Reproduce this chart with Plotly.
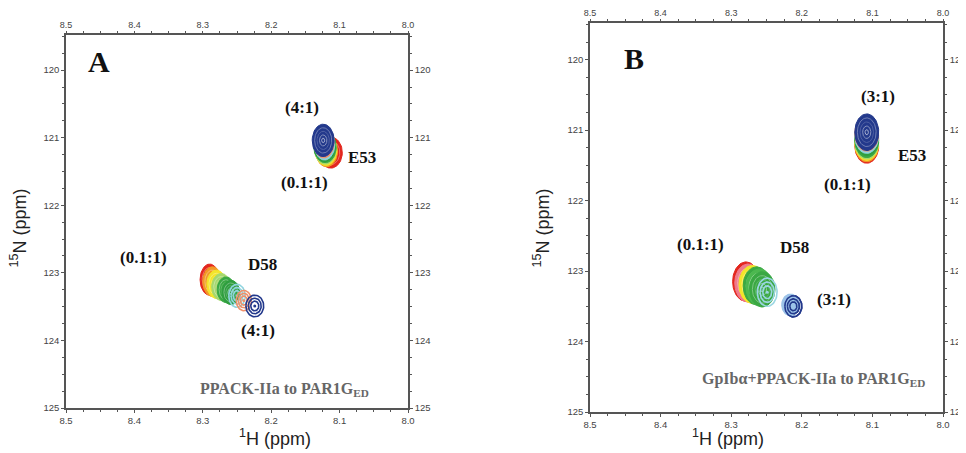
import numpy as np
import plotly.graph_objects as go

# ---------------- data ----------------
x_ticks = [8.5, 8.4, 8.3, 8.2, 8.1, 8.0]
y_ticks = [120, 121, 122, 123, 124, 125]
x_range = [8.5, 8.0]
y_range = [125.0, 119.48]

# titration colours (0.1:1 -> final)
series_colors = ["#e3261d", "#f29a25", "#f3e52a", "#a6d86e", "#3aa843", "#2f9e3f", "#8fd4df", "#f0906a", "#23398c"]

# Panel A  E53 peak centres (1H, 15N) and half widths
A_E53_h = [8.113, 8.119, 8.120, 8.121, 8.121, 8.122, 8.122, 8.123, 8.124]
A_E53_n = [121.22, 121.20, 121.18, 121.16, 121.14, 121.12, 121.10, 121.07, 121.04]
A_E53_rh = [0.017, 0.016, 0.016, 0.016, 0.016, 0.016, 0.015, 0.015, 0.016]
A_E53_rn = [0.23, 0.23, 0.23, 0.23, 0.23, 0.23, 0.23, 0.23, 0.24]

# Panel A  D58
A_D58_h = [8.290, 8.286, 8.280, 8.273, 8.266, 8.259, 8.250, 8.240, 8.224]
A_D58_n = [123.10, 123.13, 123.17, 123.21, 123.25, 123.29, 123.34, 123.41, 123.49]
A_D58_rh = [0.014, 0.014, 0.014, 0.014, 0.013, 0.013, 0.012, 0.011, 0.013]
A_D58_rn = [0.23, 0.22, 0.21, 0.20, 0.19, 0.18, 0.17, 0.15, 0.16]

# Panel B  E53
B_E53_h = [8.108, 8.108, 8.108, 8.108, 8.108, 8.108, 8.108, 8.108, 8.108]
B_E53_n = [121.22, 121.20, 121.18, 121.16, 121.14, 121.11, 121.08, 121.05, 121.03]
B_E53_rh = [0.017, 0.017, 0.017, 0.017, 0.017, 0.017, 0.017, 0.017, 0.017]
B_E53_rn = [0.25, 0.25, 0.25, 0.25, 0.25, 0.25, 0.25, 0.25, 0.26]

# Panel B  D58
B_D58_h = [8.279, 8.276, 8.270, 8.264, 8.260, 8.256, 8.249, 8.216, 8.212]
B_D58_n = [123.15, 123.17, 123.19, 123.21, 123.23, 123.26, 123.30, 123.48, 123.50]
B_D58_rh = [0.019, 0.019, 0.019, 0.019, 0.019, 0.018, 0.014, 0.012, 0.012]
B_D58_rn = [0.28, 0.27, 0.27, 0.27, 0.26, 0.25, 0.20, 0.15, 0.15]
B_D58_colors = ["#e3261d", "#f07a8a", "#f3e52a", "#3aa843", "#4cb84f", "#3aa843", "#9ad6e3", "#9cc3e8", "#23398c"]

# ---------------- figure ----------------
fig = go.Figure()

def ellipse(cx, cy, rx, ry, n=64):
    t = np.linspace(0, 2 * np.pi, n)
    return cx + rx * np.cos(t), cy + ry * np.sin(t)

def lighten(hexc, f):
    hexc = hexc.lstrip("#")
    r, g, b = int(hexc[0:2], 16), int(hexc[2:4], 16), int(hexc[4:6], 16)
    r = int(r + (255 - r) * f); g = int(g + (255 - g) * f); b = int(b + (255 - b) * f)
    return f"rgb({r},{g},{b})"

def add_peaks(hs, ns, rhs, rns, colors, xa, ya, filled_upto):
    for i, (h, n, rh, rn, c) in enumerate(zip(hs, ns, rhs, rns, colors)):
        if i < filled_upto:
            ex, ey = ellipse(h, n, rh, rn)
            fig.add_trace(go.Scatter(x=ex, y=ey, mode="lines", fill="toself", fillcolor=c,
                                     line=dict(color=c, width=1), xaxis=xa, yaxis=ya,
                                     hoverinfo="skip", showlegend=False))
            for s, lf in [(0.78, 0.35), (0.56, 0.2), (0.34, 0.45), (0.14, 0.6)]:
                ex, ey = ellipse(h, n, rh * s, rn * s)
                fig.add_trace(go.Scatter(x=ex, y=ey, mode="lines",
                                         line=dict(color=lighten(c, lf), width=1), xaxis=xa, yaxis=ya,
                                         hoverinfo="skip", showlegend=False))
        else:
            for s in [1.0, 0.72, 0.45]:
                ex, ey = ellipse(h, n, rh * s, rn * s)
                fig.add_trace(go.Scatter(x=ex, y=ey, mode="lines",
                                         line=dict(color=c, width=1.6), xaxis=xa, yaxis=ya,
                                         hoverinfo="skip", showlegend=False))
            fig.add_trace(go.Scatter(x=[h], y=[n], mode="markers",
                                     marker=dict(color=c, size=3), xaxis=xa, yaxis=ya,
                                     hoverinfo="skip", showlegend=False))

# Panel A
add_peaks(A_E53_h, A_E53_n, A_E53_rh, A_E53_rn, series_colors, "x", "y", filled_upto=9)
add_peaks(A_D58_h, A_D58_n, A_D58_rh, A_D58_rn, series_colors, "x", "y", filled_upto=6)
# Panel B
add_peaks(B_E53_h, B_E53_n, B_E53_rh, B_E53_rn, series_colors, "x2", "y2", filled_upto=9)
add_peaks(B_D58_h, B_D58_n, B_D58_rh, B_D58_rn, B_D58_colors, "x2", "y2", filled_upto=6)
# light blue filled under navy rings in B
ex, ey = ellipse(B_D58_h[7], B_D58_n[7], B_D58_rh[7], B_D58_rn[7])
fig.add_trace(go.Scatter(x=ex, y=ey, mode="lines", fill="toself", fillcolor=B_D58_colors[7],
                         line=dict(color=B_D58_colors[7], width=1), xaxis="x2", yaxis="y2",
                         hoverinfo="skip", showlegend=False))
for s in [1.0, 0.7, 0.42]:
    ex, ey = ellipse(B_D58_h[8], B_D58_n[8], B_D58_rh[8] * s, B_D58_rn[8] * s)
    fig.add_trace(go.Scatter(x=ex, y=ey, mode="lines", line=dict(color=B_D58_colors[8], width=1.6),
                             xaxis="x2", yaxis="y2", hoverinfo="skip", showlegend=False))

# dummy traces for mirrored axes
for xa, ya in [("x3", "y3"), ("x4", "y4")]:
    fig.add_trace(go.Scatter(x=[8.25], y=[122], mode="markers", marker=dict(opacity=0),
                             xaxis=xa, yaxis=ya, hoverinfo="skip", showlegend=False))

axcol = "#555555"
tickfont = dict(family="Liberation Sans, Arial, sans-serif", size=9.5, color="#444")
tickfont_top = dict(family="Liberation Sans, Arial, sans-serif", size=9, color="#444")

def xax(domain=None, side="bottom", overlaying=None, anchor="y"):
    top = side == "top"
    d = dict(range=x_range, tickvals=x_ticks, ticktext=[f"{v:.1f}" for v in x_ticks],
             ticks="outside", ticklen=2 if top else 3, tickcolor=axcol, showline=True, linecolor=axcol,
             linewidth=1.5, showgrid=False, zeroline=False,
             tickfont=tickfont_top if top else tickfont, side=side,
             anchor=anchor, automargin=False,
             minor=dict(dtick=0.025, tick0=8.0, ticks="outside", ticklen=2, tickcolor=axcol),
             fixedrange=True)
    if domain is not None:
        d["domain"] = domain
    if overlaying:
        d["overlaying"] = overlaying
    return d

def yax(domain=None, side="left", overlaying=None, anchor="x"):
    d = dict(range=y_range, tickvals=y_ticks, ticktext=[str(v) for v in y_ticks],
             ticks="outside", ticklen=3, tickcolor=axcol, showline=True, linecolor=axcol,
             linewidth=1.5, showgrid=False, zeroline=False, tickfont=tickfont, side=side,
             anchor=anchor, automargin=False,
             minor=dict(dtick=0.25, tick0=120, ticks="outside", ticklen=2, tickcolor=axcol),
             fixedrange=True)
    if domain is not None:
        d["domain"] = domain
    if overlaying:
        d["overlaying"] = overlaying
    return d

# the page body adds an 8 px offset; figure pixels = screen pixels - OFF
OFF = 8
W, H = 966 - OFF, 453 - OFF

def px(sx):
    return (sx - OFF) / W

def py(sy):
    return 1 - (sy - OFF) / H

A_dx = [px(66), px(408)]
A_dy = [py(408), py(35)]
B_dx = [px(590), px(943)]
B_dy = [py(412), py(23)]

fig.update_layout(
    width=W, height=H, margin=dict(l=0, r=0, t=0, b=0, autoexpand=False),
    paper_bgcolor="white", plot_bgcolor="white",
    xaxis=xax(A_dx, "bottom", anchor="y"),
    yaxis=yax(A_dy, "left", anchor="x"),
    xaxis2=xax(B_dx, "bottom", anchor="y2"),
    yaxis2=yax(B_dy, "left", anchor="x2"),
    xaxis3=xax(None, "top", overlaying="x", anchor="y3"),
    yaxis3=yax(None, "right", overlaying="y", anchor="x3"),
    xaxis4=xax(None, "top", overlaying="x2", anchor="y4"),
    yaxis4=yax(None, "right", overlaying="y2", anchor="x4"),
    showlegend=False,
)

serif = "Liberation Serif, Times New Roman, serif"
sans = "Liberation Sans, Arial, sans-serif"

def lab(text, x, y, xref, yref, size=17, color="#111", family=serif, **kw):
    fig.add_annotation(text=text, x=x, y=y, xref=xref, yref=yref, showarrow=False,
                       font=dict(family=family, size=size, color=color), **kw)

# Panel A labels
lab("<b>A</b>", 8.452, 119.87, "x", "y", size=30)
lab("<b>(4:1)</b>", 8.155, 120.56, "x", "y")
lab("<b>(0.1:1)</b>", 8.151, 121.67, "x", "y")
lab("<b>E53</b>", 8.067, 121.30, "x", "y")
lab("<b>(0.1:1)</b>", 8.387, 122.78, "x", "y")
lab("<b>D58</b>", 8.213, 122.88, "x", "y")
lab("<b>(4:1)</b>", 8.22, 123.86, "x", "y")
lab("<b>PPACK-IIa to PAR1G<sub>ED</sub></b>", 8.181, 124.72, "x", "y", size=16, color="#666")

# Panel B labels
lab("<b>B</b>", 8.438, 119.99, "x2", "y2", size=30)
lab("<b>(3:1)</b>", 8.092, 120.52, "x2", "y2")
lab("<b>(0.1:1)</b>", 8.135, 121.77, "x2", "y2")
lab("<b>E53</b>", 8.044, 121.36, "x2", "y2")
lab("<b>(0.1:1)</b>", 8.344, 122.63, "x2", "y2")
lab("<b>D58</b>", 8.210, 122.67, "x2", "y2")
lab("<b>(3:1)</b>", 8.154, 123.40, "x2", "y2")
lab("<b>GpIb\u03b1+PPACK-IIa to PAR1G<sub>ED</sub></b>", 8.184, 124.54, "x2", "y2", size=16, color="#666")

# axis titles
lab("<sup>1</sup>H (ppm)", px(237), py(451), "paper", "paper", size=18, color="#222", family=sans, yanchor="bottom")
lab("<sup>1</sup>H (ppm)", px(766), py(451), "paper", "paper", size=18, color="#222", family=sans, yanchor="bottom")
lab("<sup>15</sup>N (ppm)", px(5), py(228), "paper", "paper", size=18, color="#222", family=sans, textangle=-90, xanchor="left")
lab("<sup>15</sup>N (ppm)", px(528), py(228), "paper", "paper", size=18, color="#222", family=sans, textangle=-90, xanchor="left")

fig.write_html("out.html")
